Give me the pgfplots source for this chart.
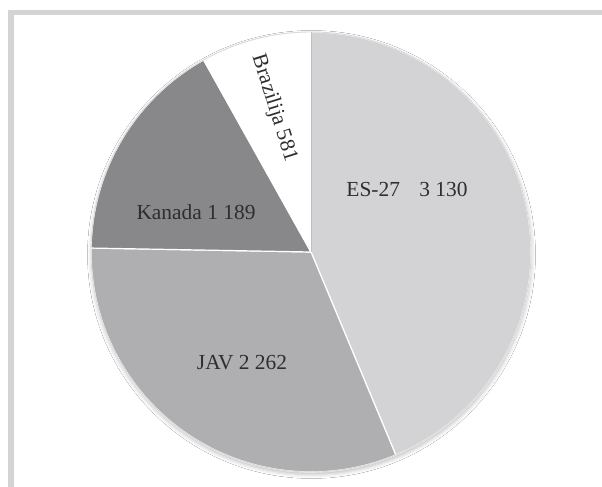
\documentclass[border=0pt]{standalone}
\usepackage{fontspec}
\setmainfont{Liberation Serif}
\usepackage{pgfplots}
\usepackage{pgfplotstable}
\pgfplotsset{compat=1.18}
\usetikzlibrary{shadows.blur}
\definecolor{es}{HTML}{D3D3D5}
\definecolor{jav}{HTML}{AFAFB2}
\definecolor{kan}{HTML}{88888B}
\definecolor{bra}{HTML}{FFFFFF}
\definecolor{frame}{HTML}{D4D4D4}
\definecolor{txt}{HTML}{2E2E2E}

\pgfplotstableread{
label value col
ES-27 3130 es
JAV 2262 jav
Kanada 1189 kan
Brazilija 581 bra
}\piedata

\begin{document}
\begin{tikzpicture}
\begin{axis}[
  hide axis, scale only axis,
  width=602bp, height=487bp,
  xmin=0, xmax=602, ymin=-487, ymax=0,
  clip=true,
]
\addplot[draw=none, forget plot] coordinates {(0,0) (602,-487)};
\pgfplotsextra{
  \fill[white] (axis cs:0,0) rectangle (axis cs:602,-487);
  % frame (cropped at right and bottom)
  \fill[frame] (axis cs:8,-10) rectangle (axis cs:602,-15);
  \fill[frame] (axis cs:8,-10) rectangle (axis cs:14,-487);
  % shadow
  \fill[white, blur shadow={shadow xshift=0.5bp, shadow yshift=-2.5bp, shadow blur radius=4bp, shadow opacity=25}] (axis cs:311,-252) circle[radius=220bp];
  \pgfplotstablegetrowsof{\piedata}
  \pgfmathtruncatemacro\nrows{\pgfplotsretval-1}
  \gdef\pietot{0}
  \foreach \i in {0,...,\nrows}{%
    \pgfplotstablegetelem{\i}{value}\of\piedata
    \pgfmathsetmacro\tmpsum{\pietot+\pgfplotsretval}%
    \xdef\pietot{\tmpsum}}
  \gdef\piecum{0}
  \foreach \i in {0,...,\nrows}{%
    \pgfplotstablegetelem{\i}{value}\of\piedata
    \let\sliceval\pgfplotsretval
    \pgfplotstablegetelem{\i}{col}\of\piedata
    \let\slicecol\pgfplotsretval
    \pgfmathsetmacro\anga{90-360*(\piecum/\pietot)}%
    \pgfmathsetmacro\angb{90-360*((\piecum+\sliceval)/\pietot)}%
    \fill[\slicecol, draw=white, line width=1.2bp, line join=round]
      (axis cs:311,-252) -- ++(\anga:220bp) arc[start angle=\anga, end angle=\angb, radius=220bp] -- cycle;
    \pgfmathsetmacro\tmpsum{\piecum+\sliceval}%
    \xdef\piecum{\tmpsum}}
  \draw[black!25, line width=0.8bp] (axis cs:311,-252) -- ++(90:220bp);
  \draw[black!15, line width=0.9bp] (axis cs:311,-252) circle[radius=220bp];
  % labels
  \node[txt, font=\fontsize{21.5}{24}\selectfont] at (axis cs:407,-189) {ES-27\hspace{0.9em}3 130};
  \node[txt, font=\fontsize{21.5}{24}\selectfont] at (axis cs:196,-212) {Kanada 1 189};
  \node[txt, font=\fontsize{21.5}{24}\selectfont] at (axis cs:242,-363) {JAV 2 262};
  \node[txt, font=\fontsize{21.5}{24}\selectfont, rotate=-72.5] at (axis cs:274,-108) {Brazilija 581};
}
\end{axis}
\end{tikzpicture}
\end{document}
